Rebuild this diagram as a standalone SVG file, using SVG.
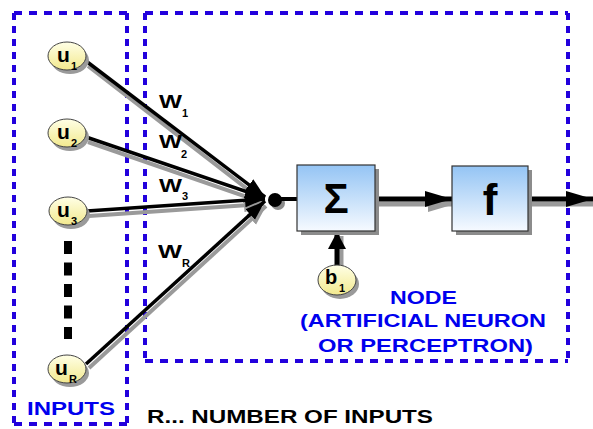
<svg xmlns="http://www.w3.org/2000/svg" width="593" height="429" viewBox="0 0 593 429">
<defs>
  <linearGradient id="gBox" x1="0" y1="0" x2="0" y2="1">
    <stop offset="0" stop-color="#94C4F4"/>
    <stop offset="1" stop-color="#F6FAFF"/>
  </linearGradient>
  <linearGradient id="gIn" x1="0" y1="0" x2="0" y2="1">
    <stop offset="0" stop-color="#FFFFE6"/>
    <stop offset="1" stop-color="#F2E98E"/>
  </linearGradient>
  <marker id="arr" markerUnits="userSpaceOnUse" markerWidth="22" markerHeight="16" refX="20" refY="8" orient="auto">
    <path d="M0,1 L20,8 L0,15 z" fill="#000"/>
  </marker>
  <marker id="arrS" markerUnits="userSpaceOnUse" markerWidth="22" markerHeight="16" refX="20" refY="8" orient="auto">
    <path d="M0,1 L20,8 L0,15 z" fill="#9a9a9a"/>
  </marker>
  <marker id="big" markerUnits="userSpaceOnUse" markerWidth="28" markerHeight="18" refX="27" refY="9" orient="auto">
    <path d="M0,1 L27,9 L0,17 z" fill="#000"/>
  </marker>
  <marker id="bigS" markerUnits="userSpaceOnUse" markerWidth="28" markerHeight="18" refX="27" refY="9" orient="auto">
    <path d="M0,1 L27,9 L0,17 z" fill="#9a9a9a"/>
  </marker>
  <marker id="up" markerUnits="userSpaceOnUse" markerWidth="18" markerHeight="18" refX="17" refY="9" orient="auto">
    <path d="M0,0 L17,9 L0,18 z" fill="#000"/>
  </marker>
</defs>
<style>
  .bl{stroke:#2200DD;stroke-width:4;fill:none}
  .h{stroke-dasharray:8 7}
  .v{stroke-dasharray:7 6}
  .t{font-family:"Liberation Sans",Arial,sans-serif;font-weight:bold}
  .blue{fill:#0000EE}
  .conn{stroke:#000;stroke-width:3.5;fill:none}
  .sh{stroke:#9a9a9a;stroke-width:4;fill:none}
  .in{fill:url(#gIn);stroke:#444;stroke-width:1}
  .insh{fill:#9a9a9a}
  .box{fill:url(#gBox);stroke:#333;stroke-width:1.2}
  .boxsh{fill:#8c8c8c}
</style>

<g id="inputs-frame">
  <line class="bl h" x1="14" y1="13" x2="127" y2="13"/>
  <line class="bl h" x1="14" y1="424" x2="127" y2="424"/>
  <line class="bl v" x1="14" y1="13" x2="14" y2="424"/>
  <line class="bl v" x1="127" y1="13" x2="127" y2="424"/>
  <text class="t blue" x="27" y="415" font-size="18" textLength="88" lengthAdjust="spacingAndGlyphs">INPUTS</text>
</g>

<g id="node-frame">
  <line class="bl h" x1="145" y1="13" x2="568" y2="13"/>
  <line class="bl h" x1="145" y1="361" x2="568" y2="361"/>
  <line class="bl v" x1="145" y1="13" x2="145" y2="361"/>
  <line class="bl v" x1="568" y1="13" x2="568" y2="361"/>
  <text class="t blue" font-size="19">
    <tspan x="390" y="304" textLength="67" lengthAdjust="spacingAndGlyphs">NODE</tspan>
    <tspan x="300" y="327" textLength="246" lengthAdjust="spacingAndGlyphs">(ARTIFICIAL NEURON</tspan>
    <tspan x="318" y="352" textLength="215" lengthAdjust="spacingAndGlyphs">OR PERCEPTRON)</tspan>
  </text>
</g>

<g id="connectors">
  <line class="sh" x1="88" y1="66" x2="264" y2="202" marker-end="url(#arrS)"/>
  <line class="sh" x1="88" y1="142" x2="264" y2="203" marker-end="url(#arrS)"/>
  <line class="sh" x1="89" y1="216" x2="264" y2="204" marker-end="url(#arrS)"/>
  <line class="sh" x1="89" y1="368" x2="266" y2="206" marker-end="url(#arrS)"/>
  <line class="conn" x1="86" y1="61" x2="265" y2="197" marker-end="url(#arr)"/>
  <line class="conn" x1="86" y1="137" x2="265" y2="198" marker-end="url(#arr)"/>
  <line class="conn" x1="87" y1="211" x2="265" y2="199" marker-end="url(#arr)"/>
  <line class="conn" x1="86" y1="364" x2="265" y2="201" marker-end="url(#arr)"/>
  <circle cx="278" cy="203" r="7" fill="#8c8c8c"/>
  <circle cx="275" cy="200" r="7" fill="#000"/>
  <line x1="280" y1="199" x2="297" y2="199" stroke="#000" stroke-width="4"/>
  <line x1="379" y1="204" x2="455" y2="204" stroke="#9a9a9a" stroke-width="5" marker-end="url(#bigS)"/>
  <line x1="375" y1="199" x2="452" y2="199" stroke="#000" stroke-width="5" marker-end="url(#big)"/>
  <line x1="532" y1="204" x2="593" y2="204" stroke="#9a9a9a" stroke-width="5"/>
  <line x1="528" y1="199" x2="593" y2="199" stroke="#000" stroke-width="5" marker-end="url(#big)"/>
  <line x1="341" y1="266" x2="341" y2="236" stroke="#9a9a9a" stroke-width="5"/>
  <line x1="337" y1="266" x2="337" y2="232" stroke="#000" stroke-width="5" marker-end="url(#up)"/>
  <line x1="68" y1="241" x2="68" y2="339" stroke="#000" stroke-width="8" stroke-dasharray="13 8.5"/>
  <text class="t" font-size="19">
    <tspan x="159" y="108" textLength="23" lengthAdjust="spacingAndGlyphs">W</tspan><tspan x="182" y="117" font-size="11">1</tspan>
    <tspan x="159" y="148" textLength="23" lengthAdjust="spacingAndGlyphs">W</tspan><tspan x="181" y="158" font-size="11">2</tspan>
    <tspan x="159" y="192" textLength="23" lengthAdjust="spacingAndGlyphs">W</tspan><tspan x="182" y="200" font-size="11">3</tspan>
    <tspan x="158" y="258" textLength="24" lengthAdjust="spacingAndGlyphs">W</tspan><tspan x="182" y="267" font-size="11">R</tspan>
  </text>
</g>

<g id="u1">
  <ellipse class="insh" cx="70" cy="60" rx="19" ry="14"/>
  <ellipse class="in" cx="67" cy="56" rx="19" ry="14"/>
  <text class="t" x="57" y="62" font-size="21">u</text>
  <text class="t" x="71" y="70" font-size="11">1</text>
</g>
<g id="u2">
  <ellipse class="insh" cx="70" cy="137" rx="19" ry="14"/>
  <ellipse class="in" cx="67" cy="133" rx="19" ry="14"/>
  <text class="t" x="57" y="139" font-size="21">u</text>
  <text class="t" x="71" y="147" font-size="11">2</text>
</g>
<g id="u3">
  <ellipse class="insh" cx="71" cy="215" rx="19" ry="14"/>
  <ellipse class="in" cx="68" cy="211" rx="19" ry="14"/>
  <text class="t" x="57" y="217" font-size="21">u</text>
  <text class="t" x="71" y="225" font-size="11">3</text>
</g>
<g id="uR">
  <ellipse class="insh" cx="70" cy="373" rx="19" ry="14"/>
  <ellipse class="in" cx="67" cy="369" rx="19" ry="14"/>
  <text class="t" x="55" y="375" font-size="21">u</text>
  <text class="t" x="69" y="383" font-size="11">R</text>
</g>

<g id="b1">
  <ellipse class="insh" cx="340" cy="284" rx="19" ry="15"/>
  <ellipse class="in" cx="337" cy="280" rx="19" ry="15"/>
  <text class="t" x="325" y="284" font-size="20">b</text>
  <text class="t" x="339" y="292" font-size="11">1</text>
</g>

<g id="sum">
  <rect class="boxsh" x="301" y="169" width="78" height="66"/>
  <rect class="box" x="297" y="165" width="78" height="66"/>
  <text class="t" x="336" y="213" font-size="42" text-anchor="middle">Σ</text>
</g>

<g id="f">
  <rect class="boxsh" x="456" y="170" width="76" height="65"/>
  <rect class="box" x="452" y="166" width="76" height="65"/>
  <text class="t" x="490" y="215" font-size="44" text-anchor="middle">f</text>
</g>

<g id="note">
  <text class="t" x="147" y="423" font-size="18" textLength="286" lengthAdjust="spacingAndGlyphs">R... NUMBER OF INPUTS</text>
</g>
</svg>
